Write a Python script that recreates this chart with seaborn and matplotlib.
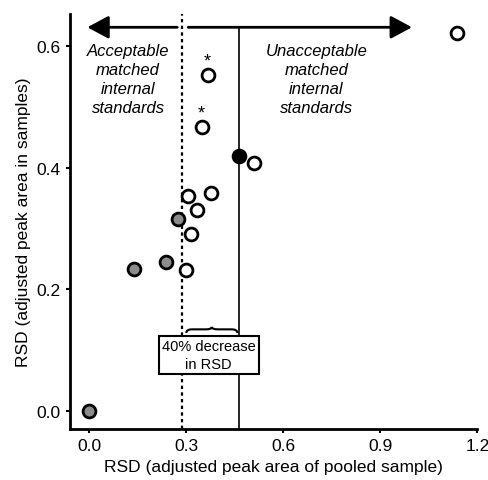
import numpy as np
import pandas as pd
import seaborn as sns
import matplotlib.pyplot as plt
from matplotlib.path import Path
from matplotlib.patches import PathPatch

sns.set_style("ticks")
plt.rcParams['font.family'] = ['Liberation Sans', 'DejaVu Sans']
plt.rcParams['text.color'] = 'black'
plt.rcParams['axes.labelcolor'] = 'black'
plt.rcParams['xtick.color'] = 'black'
plt.rcParams['ytick.color'] = 'black'
plt.rcParams['axes.edgecolor'] = 'black'

# Points
open_x = [1.138, 0.368, 0.350, 0.510, 0.376, 0.305, 0.333, 0.315, 0.298]
open_y = [0.621, 0.552, 0.467, 0.407, 0.359, 0.354, 0.330, 0.291, 0.232]
gray_x = [0.273, 0.236, 0.139, 0.000]
gray_y = [0.315, 0.244, 0.233, 0.000]
black_x = [0.464]
black_y = [0.419]
star_x = [0.368, 0.350]
star_y = [0.552, 0.467]

solid_cut = 0.464
dotted_cut = 0.286

fig = plt.figure(figsize=(4.89, 4.81), dpi=100)
ax = fig.add_axes([0.143, 0.106, 0.833, 0.863])

# vertical cut-off lines
ax.axvline(dotted_cut, color="black", lw=1.6, ls=(0, (1.5, 1.5)), zorder=1)
ax.plot([solid_cut, solid_cut], [-0.03, 0.631], color="black", lw=1.2, zorder=1)

# arrows at the top
arrow = dict(arrowstyle="-|>,head_length=1.3,head_width=0.7", color="black", lw=2,
             shrinkA=0, shrinkB=0)
ax.annotate("", xy=(-0.006, 0.631), xytext=(0.272, 0.631), arrowprops=arrow)
ax.annotate("", xy=(0.998, 0.631), xytext=(0.306, 0.631), arrowprops=arrow)

kw = dict(s=85, edgecolor="black", linewidth=2, zorder=3, ax=ax, legend=False)
sns.scatterplot(x=open_x, y=open_y, color="white", **kw)
sns.scatterplot(x=gray_x, y=gray_y, color="#8c8c8c", **kw)
sns.scatterplot(x=black_x, y=black_y, color="black", **kw)

for sx, sy in zip(star_x, star_y):
    ax.annotate("*", (sx, sy), xytext=(-1, 4), textcoords="offset points",
                ha="center", va="bottom", fontsize=13)

ax.text(0.12, 0.546, "Acceptable\nmatched\ninternal\nstandards", style="italic",
        ha="center", va="center", fontsize=12, linespacing=1.33)
ax.text(0.702, 0.546, "Unacceptable\nmatched\ninternal\nstandards", style="italic",
        ha="center", va="center", fontsize=12, linespacing=1.33)

# curly brace between the two lines
x1, x2, yb, h = 0.300, 0.458, 0.128, 0.010
xm = (x1 + x2) / 2
d = 0.018
verts = [(x1, yb), (x1, yb + h * 0.6), (x1 + d, yb + h * 0.6), (xm - d, yb + h * 0.6),
         (xm, yb + h * 0.6), (xm, yb + h),
         (xm, yb + h * 0.6), (xm + d, yb + h * 0.6),
         (x2 - d, yb + h * 0.6), (x2, yb + h * 0.6), (x2, yb)]
codes = [Path.MOVETO, Path.CURVE3, Path.CURVE3, Path.LINETO, Path.CURVE3, Path.CURVE3,
         Path.CURVE3, Path.CURVE3, Path.LINETO, Path.CURVE3, Path.CURVE3]
ax.add_patch(PathPatch(Path(verts, codes), fill=False, lw=1.5, color="black", zorder=4))

ax.text(0.369, 0.092, "40% decrease\nin RSD", ha="center", va="center", fontsize=10.5,
        linespacing=1.3, zorder=5,
        bbox=dict(boxstyle="square,pad=0.22", fc="white", ec="black", lw=1.5))

ax.set_xlim(-0.06, 1.2)
ax.set_ylim(-0.03, 0.653)
ax.set_xticks([0.0, 0.3, 0.6, 0.9, 1.2])
ax.set_yticks([0.0, 0.2, 0.4, 0.6])
ax.set_xticklabels(["0.0", "0.3", "0.6", "0.9", "1.2"])
ax.set_yticklabels(["0.0", "0.2", "0.4", "0.6"])
ax.tick_params(labelsize=12.5, width=1.5, length=3)
ax.set_xlabel("RSD (adjusted peak area of pooled sample)", fontsize=12.5)
ax.set_ylabel("RSD (adjusted peak area in samples)", fontsize=12.5)
sns.despine(ax=ax)
for sp in ["left", "bottom"]:
    ax.spines[sp].set_linewidth(2)

fig.savefig("out.png", dpi=100)
